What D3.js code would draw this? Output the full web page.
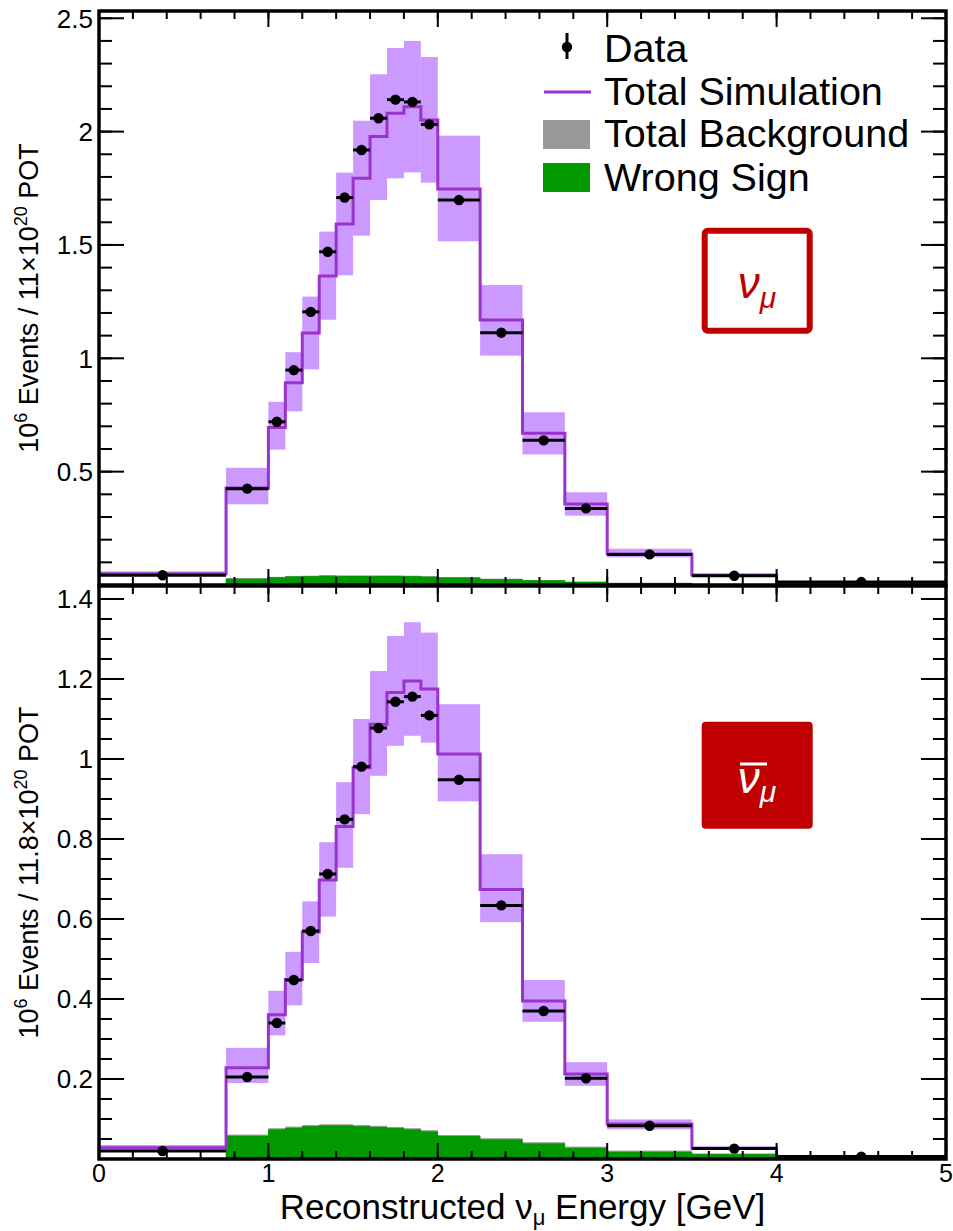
<!DOCTYPE html>
<html>
<head>
<meta charset="utf-8">
<script src="https://cdn.jsdelivr.net/npm/d3@7"></script>
<style>
  body { margin: 0; background: #fff; }
  text { font-family: "Liberation Sans", Arial, Helvetica, sans-serif; fill: #000; }
</style>
</head>
<body>
<svg id="chart"></svg>
<script>
// bin edges in reconstructed energy (GeV)
var edges = [0, 0.75, 1, 1.1, 1.2, 1.3, 1.4, 1.5, 1.6, 1.7, 1.8, 1.9, 2, 2.25, 2.5, 2.75, 3, 3.5, 4, 5];

// neutrino mode (top panel), 10^6 events
var simNu    = [0.050, 0.428, 0.695, 0.892, 1.112, 1.363, 1.592, 1.794, 1.978, 2.081, 2.110, 2.051, 1.747, 1.169, 0.669, 0.357, 0.137, 0.044, 0.009];
var hiNu     = [0.060, 0.517, 0.808, 1.027, 1.272, 1.559, 1.819, 2.048, 2.253, 2.369, 2.400, 2.329, 1.982, 1.323, 0.762, 0.409, 0.160, 0.048, 0.011];
var loNu     = [0.044, 0.356, 0.597, 0.766, 0.951, 1.170, 1.366, 1.541, 1.698, 1.794, 1.820, 1.775, 1.516, 1.012, 0.576, 0.306, 0.122, 0.040, 0.007];
var dataNu   = [0.043, 0.425, 0.720, 0.948, 1.205, 1.470, 1.709, 1.919, 2.059, 2.141, 2.131, 2.032, 1.698, 1.113, 0.638, 0.338, 0.135, 0.041, 0.013];
var bkgNu    = [0, 0.030, 0.036, 0.040, 0.041, 0.043, 0.042, 0.042, 0.042, 0.042, 0.041, 0.039, 0.035, 0.028, 0.022, 0.015, 0.010, 0.001, 0];
var wsNu     = [0, 0.028, 0.034, 0.038, 0.039, 0.041, 0.040, 0.040, 0.040, 0.040, 0.039, 0.037, 0.033, 0.026, 0.021, 0.014, 0.009, 0, 0];

// antineutrino mode (bottom panel)
var simNubar  = [0.028, 0.228, 0.3605, 0.4485, 0.5675, 0.6975, 0.831, 0.978, 1.087, 1.166, 1.195, 1.175, 1.0125, 0.674, 0.395, 0.2125, 0.0875, 0.027, 0.0065];
var hiNubar   = [0.035, 0.278, 0.4205, 0.518, 0.644, 0.792, 0.942, 1.100, 1.220, 1.3075, 1.342, 1.316, 1.137, 0.762, 0.4475, 0.242, 0.099, 0.031, 0.009];
var loNubar   = [0.024, 0.190, 0.309, 0.384, 0.490, 0.606, 0.728, 0.862, 0.958, 1.033, 1.058, 1.041, 0.894, 0.592, 0.343, 0.183, 0.074, 0.024, 0.005];
var dataNubar = [0.020, 0.205, 0.340, 0.4475, 0.570, 0.7125, 0.849, 0.981, 1.0775, 1.143, 1.156, 1.109, 0.948, 0.634, 0.370, 0.202, 0.083, 0.026, 0.006];
var bkgNubar  = [0, 0.061, 0.077, 0.081, 0.085, 0.087, 0.087, 0.085, 0.083, 0.080, 0.077, 0.072, 0.060, 0.052, 0.042, 0.031, 0.021, 0.014, 0];
var wsNubar   = [0, 0.058, 0.074, 0.078, 0.082, 0.084, 0.084, 0.082, 0.080, 0.0775, 0.074, 0.069, 0.0575, 0.049, 0.039, 0.028, 0.018, 0.012, 0];

var xTickMajor = [0, 1, 2, 3, 4, 5];

var purple = "#9933cc";
var bandCol = "#cc99ff";
var green = "#009900";
var grey = "#999999";
var red = "#c00000";

var W = 953, H = 1231;
var svg = d3.select("#chart").attr("width", W).attr("height", H);

var x = d3.scaleLinear().domain([0, 5]).range([99, 946]);

function drawPanel(cfg) {
  var y = d3.scaleLinear().domain([0, cfg.ymax]).range([cfg.bottom, cfg.top]);
  var g = svg.append("g");

  svg.append("clipPath").attr("id", "clip-" + cfg.name)
    .append("rect")
    .attr("x", x(0)).attr("y", cfg.top)
    .attr("width", x(5) - x(0)).attr("height", cfg.bottom - cfg.top);

  var inner = g.append("g").attr("clip-path", "url(#clip-" + cfg.name + ")");

  var bins = d3.range(edges.length - 1).map(function (i) {
    return {
      x0: edges[i], x1: edges[i + 1],
      sim: cfg.sim[i], hi: cfg.hi[i], lo: cfg.lo[i],
      data: cfg.data[i], bkg: cfg.bkg[i], ws: cfg.ws[i]
    };
  });

  // systematic band
  inner.selectAll(".band").data(bins).join("rect")
    .attr("class", "band")
    .attr("x", d => x(d.x0))
    .attr("width", d => x(d.x1) - x(d.x0))
    .attr("y", d => y(d.hi))
    .attr("height", d => y(d.lo) - y(d.hi))
    .attr("fill", bandCol);

  // total background then wrong sign
  inner.selectAll(".bkg").data(bins).join("rect")
    .attr("class", "bkg")
    .attr("x", d => x(d.x0))
    .attr("width", d => x(d.x1) - x(d.x0))
    .attr("y", d => y(d.bkg))
    .attr("height", d => y(0) - y(d.bkg))
    .attr("fill", grey);

  inner.selectAll(".ws").data(bins).join("rect")
    .attr("class", "ws")
    .attr("x", d => x(d.x0) - 0.3)
    .attr("width", d => x(d.x1) - x(d.x0) + 0.6)
    .attr("y", d => y(d.ws))
    .attr("height", d => y(0) - y(d.ws))
    .attr("fill", green);

  // total simulation as a step line
  var pts = [];
  bins.forEach(function (d) {
    pts.push([d.x0, d.sim]);
    pts.push([d.x1, d.sim]);
  });
  inner.append("path")
    .attr("d", d3.line().x(p => x(p[0])).y(p => y(p[1]))(pts))
    .attr("fill", "none")
    .attr("stroke", purple)
    .attr("stroke-width", 3);

  // data: bin-width bars and markers
  inner.selectAll(".xerr").data(bins).join("line")
    .attr("class", "xerr")
    .attr("x1", d => x(d.x0)).attr("x2", d => x(d.x1))
    .attr("y1", d => y(d.data)).attr("y2", d => y(d.data))
    .attr("stroke", "#000").attr("stroke-width", 3);

  inner.selectAll(".pt").data(bins).join("circle")
    .attr("class", "pt")
    .attr("cx", d => x((d.x0 + d.x1) / 2))
    .attr("cy", d => y(d.data))
    .attr("r", 5.2)
    .attr("fill", "#000");

  // ticks
  var yMinor = d3.ticks(0, cfg.ymax, cfg.minorN);
  var yMajor = d3.ticks(0, cfg.ymax, cfg.majorN);
  var xMinor = d3.ticks(0, 5, 25);
  var ax = g.append("g").attr("stroke", "#000").attr("stroke-width", 2);

  yMinor.forEach(function (v) {
    ax.append("line").attr("x1", x(0)).attr("x2", x(0) + 13).attr("y1", y(v)).attr("y2", y(v));
    ax.append("line").attr("x1", x(5)).attr("x2", x(5) - 13).attr("y1", y(v)).attr("y2", y(v));
  });
  yMajor.forEach(function (v) {
    ax.append("line").attr("x1", x(0)).attr("x2", x(0) + 25).attr("y1", y(v)).attr("y2", y(v));
    ax.append("line").attr("x1", x(5)).attr("x2", x(5) - 25).attr("y1", y(v)).attr("y2", y(v));
  });
  xMinor.forEach(function (v) {
    ax.append("line").attr("x1", x(v)).attr("x2", x(v)).attr("y1", cfg.bottom).attr("y2", cfg.bottom - 8);
    ax.append("line").attr("x1", x(v)).attr("x2", x(v)).attr("y1", cfg.top).attr("y2", cfg.top + 8);
  });
  xTickMajor.forEach(function (v) {
    ax.append("line").attr("x1", x(v)).attr("x2", x(v)).attr("y1", cfg.bottom).attr("y2", cfg.bottom - 16);
    ax.append("line").attr("x1", x(v)).attr("x2", x(v)).attr("y1", cfg.top).attr("y2", cfg.top + 16);
  });

  // frame
  g.append("rect")
    .attr("x", x(0)).attr("y", cfg.top)
    .attr("width", x(5) - x(0)).attr("height", cfg.bottom - cfg.top)
    .attr("fill", "none").attr("stroke", "#000").attr("stroke-width", 3.5);

  // y tick labels, no zero
  g.selectAll(".ylab").data(yMajor.filter(v => v > 0)).join("text")
    .attr("x", 93).attr("y", d => y(d))
    .attr("dy", "0.36em")
    .attr("text-anchor", "end")
    .attr("font-size", 26)
    .text(d3.format("~g"));

  // y title
  var t = g.append("text")
    .attr("transform", "translate(38," + ((cfg.top + cfg.bottom) / 2) + ") rotate(-90)")
    .attr("text-anchor", "middle")
    .attr("font-size", 27);
  t.append("tspan").text("10");
  t.append("tspan").attr("dy", -11).attr("font-size", 18).text("6");
  t.append("tspan").attr("dy", 11).text(" Events / " + cfg.pot + "\u00d710");
  t.append("tspan").attr("dy", -11).attr("font-size", 18).text("20");
  t.append("tspan").attr("dy", 11).text(" POT");

  return y;
}

drawPanel({
  name: "nu", top: 11, bottom: 585, ymax: 2.532, minorN: 25, majorN: 5,
  sim: simNu, hi: hiNu, lo: loNu, data: dataNu, bkg: bkgNu, ws: wsNu, pot: "11"
});
drawPanel({
  name: "nubar", top: 586, bottom: 1159, ymax: 1.4325, minorN: 28, majorN: 7,
  sim: simNubar, hi: hiNubar, lo: loNubar, data: dataNubar, bkg: bkgNubar, ws: wsNubar, pot: "11.8"
});

// x tick labels and title
svg.selectAll(".xlab").data(xTickMajor).join("text")
  .attr("x", d => x(d)).attr("y", 1182)
  .attr("text-anchor", "middle")
  .attr("font-size", 25)
  .text(d => d);

var xt = svg.append("text")
  .attr("x", x(2.5)).attr("y", 1219)
  .attr("text-anchor", "middle")
  .attr("font-size", 35);
xt.append("tspan").text("Reconstructed \u03bd");
xt.append("tspan").attr("dy", 6).attr("font-size", 22).text("\u03bc");
xt.append("tspan").attr("dy", -6).text(" Energy [GeV]");

// legend
var leg = svg.append("g");
leg.append("line").attr("x1", 567).attr("x2", 567).attr("y1", 33).attr("y2", 59)
  .attr("stroke", "#000").attr("stroke-width", 3);
leg.append("circle").attr("cx", 567).attr("cy", 47).attr("r", 5.2).attr("fill", "#000");
leg.append("line").attr("x1", 544).attr("x2", 591).attr("y1", 92).attr("y2", 92)
  .attr("stroke", purple).attr("stroke-width", 3);
leg.append("rect").attr("x", 543).attr("y", 120).attr("width", 47).attr("height", 29).attr("fill", grey);
leg.append("rect").attr("x", 543).attr("y", 163).attr("width", 47).attr("height", 29).attr("fill", green);
var legLabels = ["Data", "Total Simulation", "Total Background", "Wrong Sign"];
var legY = [62, 105, 147, 191];
leg.selectAll(".lt").data(legLabels).join("text")
  .attr("x", 604).attr("y", (d, i) => legY[i])
  .attr("font-size", 39.5)
  .text(d => d);

// nu_mu box
svg.append("rect").attr("x", 704.7).attr("y", 230.7).attr("width", 105).attr("height", 100)
  .attr("rx", 3).attr("fill", "#fff").attr("stroke", red).attr("stroke-width", 6);
var nu = svg.append("text").attr("x", 757).attr("y", 298).attr("text-anchor", "middle")
  .attr("font-family", "'Noto Sans', 'DejaVu Sans', sans-serif").attr("font-style", "italic")
  .attr("font-size", 44).style("fill", red);
nu.append("tspan").text("\u03bd");
nu.append("tspan").attr("dy", 10).attr("font-size", 30).text("\u03bc");

// anti nu_mu box
svg.append("rect").attr("x", 701.7).attr("y", 721.7).attr("width", 111).attr("height", 107)
  .attr("rx", 4).attr("fill", red);
var nb = svg.append("text").attr("x", 757).attr("y", 793).attr("text-anchor", "middle")
  .attr("font-family", "'Noto Sans', 'DejaVu Sans', sans-serif").attr("font-style", "italic")
  .attr("font-size", 44).style("fill", "#fff");
nb.append("tspan").text("\u03bd");
nb.append("tspan").attr("dy", 9).attr("font-size", 30).text("\u03bc");
svg.append("line").attr("x1", 740).attr("x2", 767).attr("y1", 764).attr("y2", 764)
  .attr("stroke", "#fff").attr("stroke-width", 3);
</script>
</body>
</html>
